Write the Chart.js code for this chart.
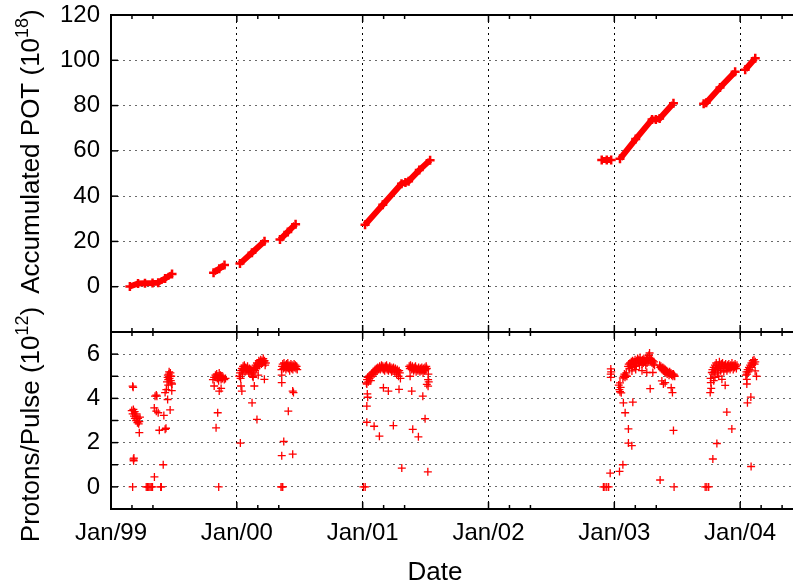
<!DOCTYPE html>
<html>
<head>
<meta charset="utf-8">
<script src="https://cdn.jsdelivr.net/npm/chart.js@4.4.0/dist/chart.umd.min.js"></script>
<style>
  html, body { margin: 0; padding: 0; background: #fff; }
</style>
</head>
<body>
<canvas id="beam" width="793" height="588"></canvas>
<script>
// accumulated protons on target (10^18), null splits the running periods
const potYears = [
  1999.15, 1999.215, 1999.27, 1999.33, 1999.375, 1999.43, 1999.485, 1999.6,
  1999.815, 1999.86, 1999.902, 1999.95,
  2000.025, 2000.12, 2000.22, 2000.28,
  2000.343, 2000.405, 2000.467, 2000.6,
  2001.019, 2001.16, 2001.309, 2001.34, 2001.365, 2001.45, 2001.536, 2002.5,
  2002.9, 2002.94, 2002.975, 2003.0,
  2003.045, 2003.17, 2003.30, 2003.33, 2003.36, 2003.47, 2003.6,
  2003.71, 2003.73, 2003.84, 2003.96, 2004.0,
  2004.04, 2004.12
];
const potValues = [
  0.1, 1.4, 1.5, 1.6, 1.8, 3.6, 5.6, null,
  6.2, 7.9, 9.6, null,
  10.2, 15.0, 20.1, null,
  20.8, 24.2, 27.6, null,
  27.4, 36.2, 45.5, 46.0, 46.6, 51.5, 55.9, null,
  56, 56, 56, null,
  56.5, 65.2, 73.9, 73.9, 74.3, 81.0, null,
  80.8, 81.2, 88.0, 94.9, null,
  95.8, 100.9
];

// protons per pulse (10^12)
const ppYears = [
  // spring 1999
  1999.172, 1999.176, 1999.165, 1999.172, 1999.178, 1999.183, 1999.188, 1999.19, 1999.195, 1999.2,
  1999.205, 1999.21, 1999.215, 1999.22, 1999.225, 1999.23, 1999.225, 1999.178, 1999.182, 1999.18,
  1999.172, 1999.28, 1999.29, 1999.3, 1999.31, 1999.32, 1999.33, 1999.395, 1999.4, 1999.345, 1999.415,
  1999.35, 1999.36, 1999.365, 1999.344, 1999.36, 1999.375, 1999.42, 1999.384, 1999.43, 1999.437,
  1999.43, 1999.44, 1999.45, 1999.47, 1999.455,
  1999.445, 1999.45, 1999.452, 1999.455, 1999.46, 1999.462, 1999.465, 1999.47, 1999.472, 1999.475,
  1999.478, 1999.48, 1999.485, 1999.483,
  // autumn 1999
  1999.81, 1999.82, 1999.83, 1999.84, 1999.845, 1999.85, 1999.855, 1999.86, 1999.865, 1999.87,
  1999.875, 1999.88, 1999.885, 1999.89, 1999.9, 1999.91,
  1999.82, 1999.86, 1999.875, 1999.848, 1999.835, 1999.856,
  // early 2000
  2000.02, 2000.025, 2000.03, 2000.035, 2000.04, 2000.045, 2000.05, 2000.055, 2000.06, 2000.065,
  2000.07, 2000.075, 2000.08, 2000.085, 2000.09, 2000.095, 2000.1, 2000.105, 2000.11, 2000.115,
  2000.12, 2000.125, 2000.13, 2000.135, 2000.14, 2000.145, 2000.15, 2000.155, 2000.16, 2000.165,
  2000.17, 2000.175, 2000.18, 2000.185, 2000.19, 2000.195, 2000.2, 2000.205, 2000.21, 2000.215,
  2000.22, 2000.225, 2000.23,
  2000.033, 2000.04, 2000.139, 2000.121, 2000.16, 2000.028, 2000.219, 2000.13, 2000.17,
  // mid 2000
  2000.355, 2000.36, 2000.365, 2000.37, 2000.375, 2000.38, 2000.385, 2000.39, 2000.395, 2000.4,
  2000.405, 2000.41, 2000.415, 2000.42, 2000.425, 2000.43, 2000.435, 2000.44, 2000.445, 2000.45,
  2000.455, 2000.46, 2000.465, 2000.47, 2000.475, 2000.48,
  2000.357, 2000.357, 2000.444, 2000.45, 2000.409, 2000.373, 2000.357, 2000.444, 2000.351, 2000.36, 2000.365,
  // 2001
  2001.03, 2001.035, 2001.04, 2001.045, 2001.05, 2001.055, 2001.06, 2001.065, 2001.07, 2001.075,
  2001.08, 2001.085, 2001.09, 2001.095, 2001.1, 2001.105, 2001.11, 2001.115, 2001.12, 2001.125,
  2001.13, 2001.135, 2001.14, 2001.145, 2001.15, 2001.155, 2001.16, 2001.165, 2001.17, 2001.175,
  2001.18, 2001.185, 2001.19, 2001.195, 2001.2, 2001.205, 2001.21, 2001.215, 2001.22, 2001.225,
  2001.23, 2001.235, 2001.24, 2001.245, 2001.25, 2001.255, 2001.26, 2001.265, 2001.27, 2001.275,
  2001.28, 2001.285, 2001.29, 2001.295,
  2001.37, 2001.375, 2001.38, 2001.385, 2001.39, 2001.395, 2001.4, 2001.405, 2001.41, 2001.415,
  2001.42, 2001.425, 2001.43, 2001.435, 2001.44, 2001.445, 2001.45, 2001.455, 2001.46, 2001.465,
  2001.47, 2001.475, 2001.48, 2001.485, 2001.49, 2001.495, 2001.5, 2001.505, 2001.51,
  2001.033, 2001.037, 2001.04, 2001.033, 2001.033, 2001.091, 2001.133, 2001.165, 2001.204, 2001.289,
  2001.244, 2001.311, 2001.39, 2001.398, 2001.443, 2001.478, 2001.496, 2001.518, 2001.51, 2001.52,
  2001.377, 2001.522, 2001.006, 2001.02, 2001.3, 2001.52, 2001.525,
  // turn of 2002/2003
  2002.913, 2002.925, 2002.94, 2002.955, 2002.967, 2002.972, 2002.972, 2002.972, 2002.975,
  2003.035, 2003.04, 2003.045, 2003.05, 2003.055, 2003.045, 2003.068, 2003.075, 2003.08, 2003.085,
  2003.09, 2003.095, 2003.1,
  2003.041, 2003.068, 2003.072, 2003.086, 2003.112, 2003.112, 2003.139, 2003.147,
  // spring 2003
  2003.11, 2003.115, 2003.12, 2003.125, 2003.13, 2003.135, 2003.14, 2003.145, 2003.15, 2003.155,
  2003.16, 2003.165, 2003.17, 2003.175, 2003.18, 2003.185, 2003.19, 2003.195, 2003.2, 2003.205,
  2003.21, 2003.215, 2003.22, 2003.225, 2003.23, 2003.235, 2003.24, 2003.245, 2003.25, 2003.255,
  2003.26, 2003.265, 2003.27, 2003.275, 2003.28, 2003.285, 2003.29, 2003.295, 2003.3, 2003.305,
  2003.31, 2003.315, 2003.32,
  2003.14, 2003.258, 2003.285, 2003.306, 2003.17, 2003.22,
  2003.36, 2003.365, 2003.37, 2003.375, 2003.38, 2003.385, 2003.39, 2003.395, 2003.4, 2003.405,
  2003.41, 2003.415, 2003.42, 2003.425, 2003.43, 2003.435, 2003.44, 2003.445, 2003.45, 2003.455,
  2003.46, 2003.465, 2003.47, 2003.475, 2003.48,
  2003.378, 2003.39, 2003.404, 2003.452, 2003.462, 2003.364, 2003.47, 2003.475,
  // autumn 2003
  2003.722, 2003.735, 2003.75, 2003.783, 2003.815, 2003.894, 2003.934, 2003.881, 2003.762, 2003.767,
  2003.775, 2003.77, 2003.765,
  2003.78, 2003.785, 2003.79, 2003.795, 2003.8, 2003.805, 2003.81, 2003.815, 2003.82, 2003.825,
  2003.83, 2003.835, 2003.84, 2003.845, 2003.85, 2003.855, 2003.86, 2003.865, 2003.87, 2003.875,
  2003.88, 2003.885, 2003.89, 2003.895, 2003.9, 2003.905, 2003.91, 2003.915, 2003.92, 2003.925,
  2003.93, 2003.935, 2003.94, 2003.945, 2003.95, 2003.955, 2003.96, 2003.965, 2003.97, 2003.975,
  2003.855, 2003.83, 2003.8, 2003.79,
  // 2004
  2004.045, 2004.05, 2004.055, 2004.06, 2004.065, 2004.07, 2004.075, 2004.08, 2004.085, 2004.09,
  2004.095, 2004.1, 2004.105, 2004.11, 2004.115, 2004.12,
  2004.053, 2004.053, 2004.058, 2004.085, 2004.087, 2004.119, 2004.13
];
const ppValues = [
  // spring 1999
  4.55, 4.5, 3.45, 3.3, 3.5, 3.2, 3.4, 3.1, 3.3, 3.0,
  3.2, 2.9, 3.1, 2.85, 2.95, 3.15, 2.45, 1.25, 1.3, 1.18,
  0, 0, 0, 0, 0, 0, 0, 0, 0, 0.45, 1.0,
  4.1, 4.15, 4.1, 3.57, 3.42, 3.35, 3.23, 2.56, 2.6, 2.65,
  4.26, 4.4, 3.95, 3.48, 4.6,
  4.75, 4.95, 5.05, 4.85, 5.1, 5.2, 4.9, 5.0, 5.15, 4.8,
  5.0, 4.7, 4.65, 4.35,
  // autumn 1999
  4.85, 4.95, 5.05, 5.1, 4.9, 5.0, 4.8, 5.15, 4.95, 5.05,
  4.85, 5.0, 4.9, 4.95, 4.85, 4.9,
  4.56, 4.33, 4.45, 3.35, 2.67, 0,
  // early 2000
  5.0, 5.15, 4.9, 5.25, 5.35, 5.1, 5.45, 5.3, 5.5, 5.2,
  5.4, 5.35, 5.25, 5.45, 5.3, 5.15, 5.35, 5.2, 5.3, 5.1,
  5.25, 5.0, 5.3, 5.15, 5.4, 5.25, 5.5, 5.35, 5.6, 5.45,
  5.55, 5.7, 5.5, 5.65, 5.75, 5.55, 5.7, 5.6, 5.8, 5.65,
  5.7, 5.5, 5.6,
  4.56, 4.33, 4.56, 3.8, 3.05, 1.98, 4.86, 4.95, 5.05,
  // mid 2000
  5.3, 5.45, 5.55, 5.35, 5.6, 5.4, 5.5, 5.3, 5.55, 5.4,
  5.6, 5.35, 5.5, 5.25, 5.45, 5.55, 5.35, 5.5, 5.3, 5.45,
  5.55, 5.4, 5.5, 5.35, 5.45, 5.3,
  5.05, 4.71, 4.33, 4.26, 3.42, 2.05, 1.41, 1.48, 0, 0, 0,
  // 2001
  4.7, 4.85, 4.95, 4.75, 5.0, 4.9, 5.05, 4.8, 5.1, 5.0,
  5.15, 5.2, 5.1, 5.25, 5.3, 5.2, 5.35, 5.25, 5.4, 5.3,
  5.35, 5.45, 5.3, 5.4, 5.5, 5.35, 5.45, 5.3, 5.4, 5.25,
  5.45, 5.35, 5.5, 5.3, 5.4, 5.25, 5.35, 5.45, 5.3, 5.4,
  5.2, 5.35, 5.25, 5.4, 5.3, 5.2, 5.35, 5.25, 5.1, 5.3,
  5.2, 5.0, 5.25, 5.15,
  5.45, 5.35, 5.5, 5.4, 5.3, 5.45, 5.35, 5.25, 5.4, 5.3,
  5.45, 5.2, 5.35, 5.3, 5.25, 5.4, 5.3, 5.2, 5.35, 5.25,
  5.4, 5.3, 5.15, 5.35, 5.25, 5.4, 5.3, 5.45, 5.35,
  4.65, 4.2, 4.05, 3.65, 2.92, 2.74, 2.29, 4.48, 4.33, 4.41,
  2.77, 0.85, 4.33, 2.6, 2.26, 4.1, 3.08, 0.68, 4.63, 4.55,
  5.0, 5.1, 0, 0, 4.9, 4.85, 4.75,
  // turn of 2002/2003
  0, 0, 0, 0, 0.62, 5.33, 5.1, 4.95, 5.2,
  4.6, 4.4, 4.3, 4.5, 4.25, 4.7, 4.92, 5.0, 5.1, 4.95,
  5.05, 5.15, 5.0,
  0.7, 1.0, 3.8, 3.35, 2.62, 1.98, 1.86, 3.83,
  // spring 2003
  5.45, 5.55, 5.35, 5.6, 5.5, 5.65, 5.4, 5.7, 5.55, 5.65,
  5.45, 5.75, 5.6, 5.5, 5.7, 5.8, 5.6, 5.75, 5.5, 5.85,
  5.65, 5.7, 5.55, 5.75, 5.6, 5.8, 5.65, 5.7, 5.5, 5.75,
  5.6, 5.85, 5.7, 5.95, 6.05, 5.8, 5.65, 5.75, 5.6, 5.7,
  5.55, 5.65, 5.5,
  5.24, 5.17, 4.44, 5.17, 5.3, 5.25,
  5.5, 5.4, 5.45, 5.35, 5.3, 5.4, 5.25, 5.35, 5.2, 5.3,
  5.15, 5.25, 5.1, 5.2, 5.15, 5.05, 5.2, 5.1, 5.15, 5.05,
  5.1, 5.0, 5.1, 5.05, 5.0,
  4.79, 4.65, 4.71, 4.48, 4.26, 0.31, 2.55, 0,
  // autumn 2003
  0, 0, 0, 1.26, 1.96, 3.38, 2.62, 4.59, 4.26, 4.71,
  5.17, 4.45, 4.9,
  5.3, 5.1, 5.4, 5.2, 5.5, 5.3, 5.6, 5.4, 5.15, 5.5,
  5.35, 5.65, 5.45, 5.25, 5.55, 5.35, 5.6, 5.45, 5.2, 5.5,
  5.35, 5.55, 5.4, 5.25, 5.5, 5.35, 5.55, 5.4, 5.3, 5.5,
  5.4, 5.6, 5.45, 5.3, 5.5, 5.4, 5.55, 5.45, 5.35, 5.5,
  4.86, 5.0, 4.95, 4.8,
  // 2004
  5.05, 5.2, 5.1, 5.3, 5.2, 5.4, 5.3, 5.5, 5.4, 5.6,
  5.5, 5.7, 5.6, 5.75, 5.55, 5.65,
  4.86, 4.65, 3.8, 4.06, 0.92, 5.24, 5.0
];

const janYears = [1999, 2000, 2001, 2002, 2003, 2004];
const janLabels = ['Jan/99', 'Jan/00', 'Jan/01', 'Jan/02', 'Jan/03', 'Jan/04'];
const potTicks = [0, 20, 40, 60, 80, 100, 120];
const ppTicks = [0, 2, 4, 6];

const FONT = '"Liberation Sans", Arial, Helvetica, "DejaVu Sans", sans-serif';
Chart.defaults.font.family = FONT;
Chart.defaults.color = '#000';

// rotated axis title with a raised exponent, e.g. "(10" + "18" + ")"
function drawTitle(ctx, cx, cy, head, sup, tail) {
  const big = '26px ' + FONT, small = '18px ' + FONT;
  ctx.save();
  ctx.font = big;
  const w1 = ctx.measureText(head).width, w3 = ctx.measureText(tail).width;
  ctx.font = small;
  const w2 = ctx.measureText(sup).width;
  const w = w1 + w2 + w3;
  ctx.translate(cx, cy);
  ctx.rotate(-Math.PI / 2);
  ctx.textAlign = 'left';
  ctx.textBaseline = 'alphabetic';
  ctx.font = big;
  ctx.fillText(head, -w / 2, 9);
  ctx.font = small;
  ctx.fillText(sup, -w / 2 + w1, -2);
  ctx.font = big;
  ctx.fillText(tail, -w / 2 + w1 + w2, 9);
  ctx.restore();
}

// gnuplot style frame: box round each panel, ticks pointing inwards
const framePlugin = {
  id: 'frame',
  afterDatasetsDraw(chart) {
    const { ctx, chartArea: a, scales } = chart;
    const x = scales.x;
    const seg = (x0, y0, x1, y1) => { ctx.beginPath(); ctx.moveTo(x0, y0); ctx.lineTo(x1, y1); ctx.stroke(); };
    ctx.save();
    ctx.strokeStyle = '#000';
    ctx.lineWidth = 1.5;
    [scales.yPot, scales.yPP].forEach(s => {
      x.ticks.forEach(t => {
        const px = x.getPixelForValue(t.value);
        const len = janYears.includes(t.value) ? 7 : 4;
        seg(px, s.top, px, s.top + len);
        seg(px, s.bottom, px, s.bottom - len);
      });
      s.ticks.forEach(t => {
        const py = s.getPixelForValue(t.value);
        seg(a.left, py, a.left + 7, py);
      });
      ctx.lineWidth = 2;
      // the plot runs on past the right edge of the picture
      ctx.strokeRect(a.left, s.top, a.right - a.left + 3, s.bottom - s.top);
      ctx.lineWidth = 1.5;
    });
    ctx.restore();

    ctx.save();
    ctx.fillStyle = '#000';
    ctx.font = '26px ' + FONT;
    ctx.textAlign = 'center';
    ctx.textBaseline = 'middle';
    ctx.fillText('Date', (a.left + a.right) / 2 - 17, chart.height - 15);
    ctx.restore();

    const pot = scales.yPot, pp = scales.yPP;
    drawTitle(ctx, 30, (pot.top + pot.bottom) / 2 - 22, 'Accumulated POT (10', '18', ')');
    drawTitle(ctx, 30, (pp.top + pp.bottom) / 2 + 4, 'Protons/Pulse (10', '12', ')');
  }
};

new Chart(document.getElementById('beam'), {
  data: {
    datasets: [
      {
        type: 'scatter',
        label: 'Protons/Pulse',
        yAxisID: 'yPP',
        data: ppYears.map((yr, i) => ({ x: yr, y: ppValues[i] })),
        pointStyle: 'cross',
        pointRadius: 4,
        borderWidth: 1.3,
        borderColor: '#ff0000',
        backgroundColor: '#ff0000'
      },
      {
        type: 'line',
        label: 'Accumulated POT',
        yAxisID: 'yPot',
        data: potYears.map((yr, i) => ({ x: yr, y: potValues[i] })),
        spanGaps: false,
        borderColor: '#ff0000',
        borderWidth: 6,
        pointStyle: 'cross',
        pointRadius: 4.5,
        pointBorderWidth: 2.5,
        pointBorderColor: '#ff0000',
        tension: 0
      }
    ]
  },
  options: {
    responsive: false,
    animation: false,
    layout: { autoPadding: false, padding: { top: 15, left: 0, right: 0, bottom: 0 } },
    plugins: { legend: { display: false }, tooltip: { enabled: false } },
    scales: {
      x: {
        type: 'linear',
        position: 'bottom',
        min: 1999,
        max: 2004.42,
        afterBuildTicks: axis => {
          const t = [];
          janYears.forEach(y => {
            t.push({ value: y });
            t.push({ value: y + 2 / 12 });
            t.push({ value: y + 4 / 12 });
          });
          axis.ticks = t.filter(k => k.value <= axis.max);
        },
        afterFit: s => { s.height = 79; s.paddingLeft = 0; s.paddingRight = 0; },
        ticks: {
          autoSkip: false,
          maxRotation: 0,
          padding: 10,
          font: { size: 24 },
          callback: v => {
            const k = janYears.indexOf(v);
            return k >= 0 ? janLabels[k] : '';
          }
        },
        grid: {
          drawTicks: false,
          lineWidth: 1,
          color: c => (c.tick && janYears.includes(c.tick.value) ? '#000' : 'rgba(0,0,0,0)')
        },
        border: { display: false, dash: [2, 4] }
      },
      yPP: {
        type: 'linear',
        position: 'left',
        stack: 'panels',
        stackWeight: 177,
        weight: 1,
        min: -1,
        max: 7,
        afterFit: s => { s.width = 111; s.paddingTop = 0; s.paddingBottom = 0; },
        ticks: {
          stepSize: 1,
          autoSkip: false,
          padding: 11,
          font: { size: 24 },
          callback: v => (ppTicks.includes(v) ? String(v) : '')
        },
        grid: {
          drawTicks: false,
          color: c => (c.tick && c.tick.value >= 0 && c.tick.value <= 6 ? '#6a6a6a' : 'rgba(0,0,0,0)')
        },
        border: { display: false, dash: [2, 4] }
      },
      yPot: {
        type: 'linear',
        position: 'left',
        stack: 'panels',
        stackWeight: 317,
        weight: 2,
        min: -20,
        max: 120,
        afterFit: s => { s.width = 111; s.paddingTop = 0; s.paddingBottom = 0; },
        ticks: {
          stepSize: 20,
          autoSkip: false,
          padding: 11,
          font: { size: 24 },
          callback: v => (potTicks.includes(v) ? String(v) : '')
        },
        grid: {
          drawTicks: false,
          color: c => (c.tick && c.tick.value >= 0 && c.tick.value <= 100 ? '#6a6a6a' : 'rgba(0,0,0,0)')
        },
        border: { display: false, dash: [2, 4] }
      }
    }
  },
  plugins: [framePlugin]
});
</script>
</body>
</html>
